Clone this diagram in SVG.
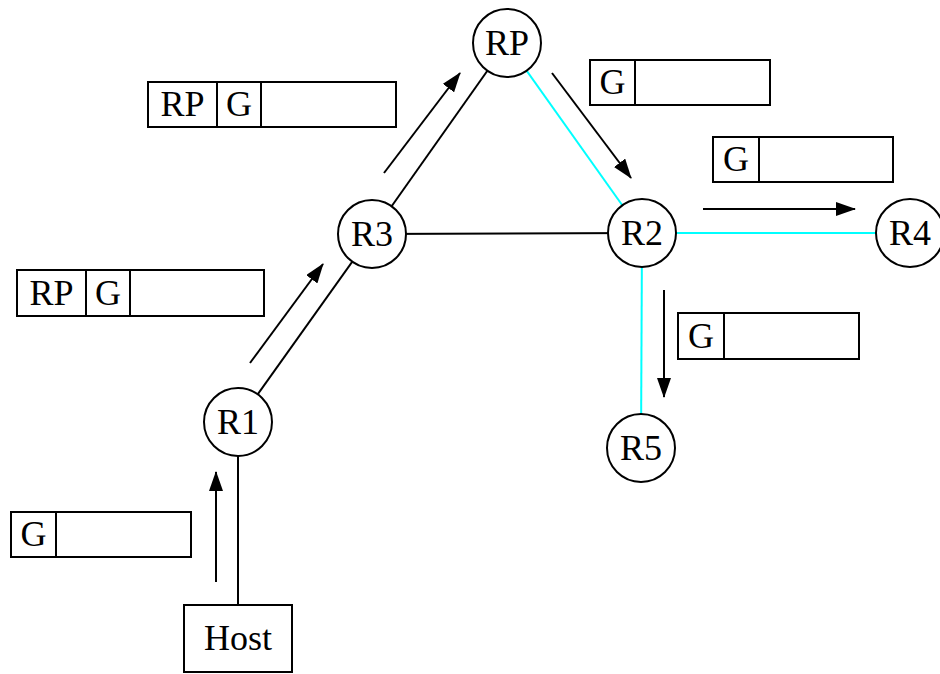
<svg xmlns="http://www.w3.org/2000/svg" width="940" height="674" viewBox="0 0 940 674">
  <defs>
    <marker id="arrow" markerWidth="20" markerHeight="14" refX="19" refY="7" orient="auto" markerUnits="userSpaceOnUse">
      <path d="M0,0 L20,7 L0,14 Z" fill="#000"/>
    </marker>
    <style>
      .node circle { fill: #fff; stroke: #000; stroke-width: 2; }
      .node rect { fill: #fff; stroke: #000; stroke-width: 2; }
      .lbl { font-family: "Liberation Serif", "Times New Roman", serif; font-size: 36px; fill: #000; text-anchor: middle; }
      .link { stroke: #000; stroke-width: 2; fill: none; }
      .tree { stroke: #00ffff; stroke-width: 2; fill: none; }
      .flow { stroke: #000; stroke-width: 2; fill: none; marker-end: url(#arrow); }
      .pkt rect, .pkt line { fill: #fff; stroke: #000; stroke-width: 2; }
    </style>
  </defs>
  <rect x="0" y="0" width="940" height="674" fill="#fff"/>

  <!-- links between routers -->
  <g id="links">
    <line class="link" x1="238" y1="422" x2="238" y2="605"/>
    <line class="link" x1="238" y1="422" x2="372" y2="234"/>
    <line class="link" x1="372" y1="234" x2="507" y2="43"/>
    <line class="link" x1="372" y1="234" x2="642" y2="233"/>
    <line class="tree" x1="507" y1="43" x2="642" y2="233"/>
    <line class="tree" x1="642" y1="233" x2="910" y2="233"/>
    <line class="tree" x1="642" y1="233" x2="641" y2="448"/>
  </g>

  <!-- packet flow arrows -->
  <g id="flows">
    <line class="flow" x1="216" y1="582" x2="216" y2="472"/>
    <line class="flow" x1="250" y1="363" x2="323" y2="264"/>
    <line class="flow" x1="384" y1="173" x2="460" y2="73"/>
    <line class="flow" x1="552" y1="73" x2="631" y2="178"/>
    <line class="flow" x1="703" y1="209" x2="855" y2="209"/>
    <line class="flow" x1="664" y1="290" x2="664" y2="397"/>
  </g>

  <g id="host" class="node">
    <rect x="184" y="605" width="108" height="67"/>
    <text class="lbl" x="238" y="650">Host</text>
  </g>
  <g id="r1" class="node">
    <circle cx="238" cy="422" r="34"/>
    <text class="lbl" x="238" y="434">R1</text>
  </g>
  <g id="r3" class="node">
    <circle cx="372" cy="234" r="34"/>
    <text class="lbl" x="372" y="246">R3</text>
  </g>
  <g id="rp" class="node">
    <circle cx="507" cy="43" r="34"/>
    <text class="lbl" x="507" y="55">RP</text>
  </g>
  <g id="r2" class="node">
    <circle cx="642" cy="233" r="34"/>
    <text class="lbl" x="642" y="245">R2</text>
  </g>
  <g id="r4" class="node">
    <circle cx="910" cy="233" r="34"/>
    <text class="lbl" x="910" y="245">R4</text>
  </g>
  <g id="r5" class="node">
    <circle cx="641" cy="448" r="34"/>
    <text class="lbl" x="641" y="460">R5</text>
  </g>

  <!-- packet headers -->
  <g id="pkt-host" class="pkt">
    <rect x="11" y="512" width="180" height="45"/>
    <line x1="56" y1="512" x2="56" y2="557"/>
    <text class="lbl" x="33.5" y="546">G</text>
  </g>
  <g id="pkt-r1" class="pkt">
    <rect x="17" y="270" width="247" height="46"/>
    <line x1="86" y1="270" x2="86" y2="316"/>
    <line x1="130" y1="270" x2="130" y2="316"/>
    <text class="lbl" x="51.5" y="305">RP</text>
    <text class="lbl" x="108" y="305">G</text>
  </g>
  <g id="pkt-r3" class="pkt">
    <rect x="148" y="82" width="248" height="45"/>
    <line x1="217" y1="82" x2="217" y2="127"/>
    <line x1="261" y1="82" x2="261" y2="127"/>
    <text class="lbl" x="182.5" y="116">RP</text>
    <text class="lbl" x="239" y="116">G</text>
  </g>
  <g id="pkt-rp" class="pkt">
    <rect x="590" y="60" width="180" height="45"/>
    <line x1="635" y1="60" x2="635" y2="105"/>
    <text class="lbl" x="612.5" y="94">G</text>
  </g>
  <g id="pkt-r4" class="pkt">
    <rect x="713" y="137" width="180" height="45"/>
    <line x1="759" y1="137" x2="759" y2="182"/>
    <text class="lbl" x="736" y="171">G</text>
  </g>
  <g id="pkt-r5" class="pkt">
    <rect x="678" y="313" width="181" height="46"/>
    <line x1="724" y1="313" x2="724" y2="359"/>
    <text class="lbl" x="701" y="348">G</text>
  </g>
</svg>
